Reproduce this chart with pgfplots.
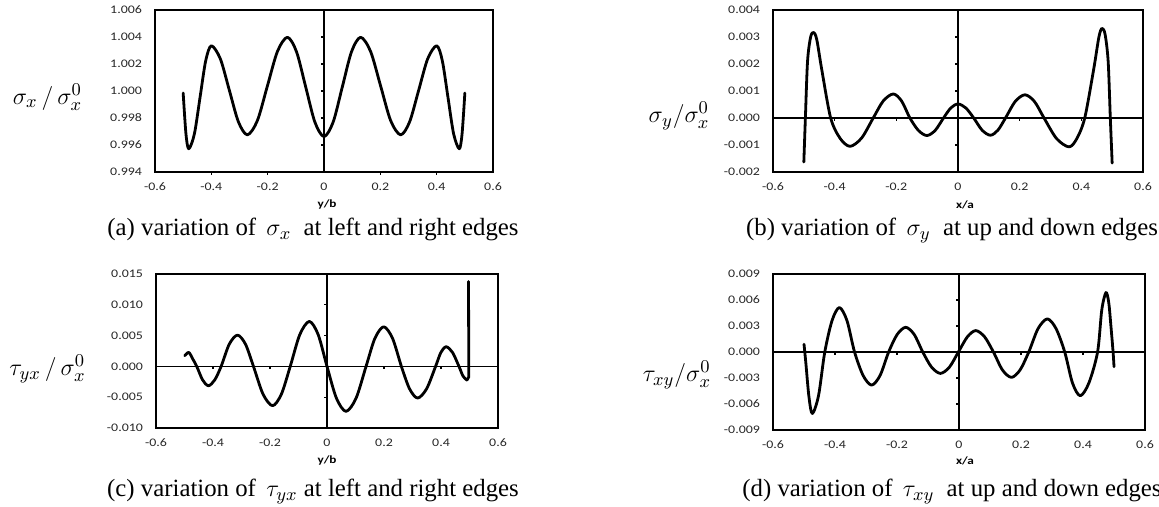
\documentclass[border=0pt]{standalone}
\usepackage{fontspec}
\setmainfont{Liberation Serif}
\newfontfamily\tickfont[FakeStretch=1.2]{Carlito}
\usepackage{pgfplots}
\pgfplotsset{compat=1.18}

\pgfplotsset{
  panel/.style={
    scale only axis, anchor=south west, clip=false,
    xmin=-0.6, xmax=0.6,
    xtick={-0.6,-0.4,-0.2,0,0.2,0.4,0.6},
    xticklabels={-0.6,-0.4,-0.2,0,0.2,0.4,0.6},
    scaled y ticks=false, scaled x ticks=false,
    major tick length=0pt,
    axis line style={line width=0.8pt},
    tick label style={font=\tickfont\fontsize{5.8}{6}\selectfont, text=black!85},
    xticklabel style={yshift=-2pt},
    yticklabel style={xshift=-3pt},
  },
  curve/.style={black, line width=1.4pt, smooth, line join=round, line cap=round},
}
\newcommand{\xlab}[1]{{\tickfont\bfseries\fontsize{5.5}{6}\selectfont #1}}

\begin{document}
\begin{tikzpicture}
\useasboundingbox (0pt,0pt) rectangle (579.5pt,253.5pt);

% (a) sigma_x at left and right edges
\begin{axis}[panel, at={(77.5pt,167.5pt)}, width=169pt, height=81pt,
  ymin=0.994, ymax=1.006,
  ytick={0.994,0.996,0.998,1.000,1.002,1.004,1.006},
  yticklabels={0.994,0.996,0.998,1.000,1.002,1.004,1.006}]
\draw[line width=1pt] (axis cs:0,0.994) -- (axis cs:0,1.006);
\pgfplotsinvokeforeach{0.996,0.998,1.000,1.002,1.004}{\draw[line width=0.6pt] (axis cs:0,#1) -- ++(-1.4pt,0pt);}
\pgfplotsinvokeforeach{-0.4,-0.2,0.2,0.4}{\draw[line width=0.6pt] (axis cs:#1,0.994) -- ++(0pt,-1.4pt);}
\addplot[curve] coordinates {
(-0.500,0.99985)(-0.490,0.99680)(-0.480,0.99572)(-0.460,0.99684)(-0.440,0.99954)
(-0.420,1.00224)(-0.400,1.00335)(-0.368,1.00238)(-0.336,1.00005)(-0.304,0.99772)
(-0.272,0.99675)(-0.2365,0.99781)(-0.201,1.00037)(-0.1655,1.00292)(-0.130,1.00398)
(-0.0975,1.00290)(-0.065,1.00030)(-0.0325,0.99770)(0.000,0.99662)
(0.0325,0.99770)(0.065,1.00030)(0.0975,1.00290)(0.130,1.00398)(0.1655,1.00292)
(0.201,1.00037)(0.2365,0.99781)(0.272,0.99675)(0.304,0.99772)(0.336,1.00005)
(0.368,1.00238)(0.400,1.00335)(0.420,1.00224)(0.440,0.99954)(0.460,0.99684)
(0.480,0.99572)(0.490,0.99680)(0.500,0.99985)};
\end{axis}

% (b) sigma_y at up and down edges
\begin{axis}[panel, at={(386.5pt,167.5pt)}, width=185pt, height=81pt,
  ymin=-0.002, ymax=0.004,
  ytick={-0.002,-0.001,0,0.001,0.002,0.003,0.004},
  yticklabels={-0.002,-0.001,0.000,0.001,0.002,0.003,0.004}]
\draw[line width=1pt] (axis cs:0,-0.002) -- (axis cs:0,0.004);
\draw[line width=0.7pt] (axis cs:-0.6,0) -- (axis cs:0.6,0);
\pgfplotsinvokeforeach{-0.001,0.001,0.002,0.003}{\draw[line width=0.6pt] (axis cs:0,#1) -- ++(-1.4pt,0pt);}
\pgfplotsinvokeforeach{-0.4,-0.2,0.2,0.4}{\draw[line width=0.6pt] (axis cs:#1,0) -- ++(0pt,-1.4pt);}
\addplot[curve] coordinates {
(-0.500,-0.00163)(-0.495,0.0000)(-0.488,0.0021)(-0.478,0.0030)(-0.468,0.00317)
(-0.458,0.0029)(-0.442,0.0018)(-0.413,0.0000)(-0.382,-0.00076)(-0.350,-0.00105)
(-0.3125,-0.00074)(-0.275,0.0000)(-0.2425,0.00063)(-0.210,0.00089)(-0.183,0.00063)
(-0.156,0.0000)(-0.1285,-0.00046)(-0.101,-0.00065)(-0.074,-0.00046)(-0.047,0.0000)
(-0.0235,0.00037)(0.000,0.00052)(0.0255,0.00037)(0.051,0.0000)(0.078,-0.00045)
(0.105,-0.00064)(0.1295,-0.00045)(0.154,0.0000)(0.1855,0.00061)(0.217,0.00086)
(0.248,0.00061)(0.279,0.0000)(0.3195,-0.00076)(0.360,-0.00107)(0.3855,-0.00076)
(0.411,0.0000)(0.440,0.0018)(0.457,0.0030)(0.467,0.00332)(0.477,0.0031)
(0.487,0.0021)(0.494,0.0000)(0.500,-0.00167)};
\end{axis}

% (c) tau_yx at left and right edges
\begin{axis}[panel, at={(78pt,39.5pt)}, width=171pt, height=77pt,
  ymin=-0.010, ymax=0.015,
  ytick={-0.010,-0.005,0,0.005,0.010,0.015},
  yticklabels={-0.010,-0.005,0.000,0.005,0.010,0.015}]
\draw[line width=1pt] (axis cs:0,-0.010) -- (axis cs:0,0.015);
\draw[line width=0.7pt] (axis cs:-0.6,0) -- (axis cs:0.6,0);
\pgfplotsinvokeforeach{-0.005,0.005,0.010}{\draw[line width=0.6pt] (axis cs:0,#1) -- ++(-1.4pt,0pt);}
\pgfplotsinvokeforeach{-0.4,-0.2,0.2,0.4}{\draw[line width=0.6pt] (axis cs:#1,0) -- ++(0pt,-1.4pt);}
\addplot[curve] coordinates {
(-0.499,0.00173)(-0.485,0.00227)(-0.471,0.0012)(-0.457,0.0000)(-0.4365,-0.0022)
(-0.416,-0.00314)(-0.394,-0.0022)(-0.3715,0.0000)(-0.343,0.0036)(-0.314,0.00508)
(-0.286,0.0036)(-0.258,0.0000)(-0.2245,-0.0045)(-0.191,-0.00638)(-0.160,-0.0045)
(-0.129,0.0000)(-0.0955,0.00516)(-0.062,0.0073)(-0.031,0.00516)(0.000,0.0000)
(0.033,-0.00516)(0.0667,-0.0073)(0.102,-0.00516)(0.137,0.0000)(0.168,0.00455)
(0.199,0.00643)(0.230,0.00455)(0.261,0.0000)(0.2895,-0.00363)(0.318,-0.00514)
(0.3495,-0.00363)(0.381,0.0000)(0.3995,0.00226)(0.418,0.00319)(0.4405,0.00226)
(0.463,0.0000)(0.4775,-0.0016)(0.491,-0.00222)};
\addplot[black, line width=1.4pt, line join=round, line cap=round] coordinates {
(0.491,-0.00222)(0.4975,-0.0017)(0.4965,0.01378)};
\end{axis}

% (d) tau_xy at up and down edges
\begin{axis}[panel, at={(386.5pt,38.5pt)}, width=186pt, height=78pt,
  ymin=-0.009, ymax=0.009,
  ytick={-0.009,-0.006,-0.003,0,0.003,0.006,0.009},
  yticklabels={-0.009,-0.006,-0.003,0.000,0.003,0.006,0.009}]
\draw[line width=1pt] (axis cs:0,-0.009) -- (axis cs:0,0.009);
\draw[line width=0.7pt] (axis cs:-0.6,0) -- (axis cs:0.6,0);
\pgfplotsinvokeforeach{-0.006,-0.003,0.003,0.006}{\draw[line width=0.6pt] (axis cs:0,#1) -- ++(-1.4pt,0pt);}
\pgfplotsinvokeforeach{-0.4,-0.2,0.2,0.4}{\draw[line width=0.6pt] (axis cs:#1,0) -- ++(0pt,-1.4pt);}
\addplot[curve] coordinates {
(-0.500,0.0009)(-0.494,-0.0013)(-0.484,-0.0052)(-0.473,-0.0071)(-0.453,-0.0050)
(-0.433,0.0000)(-0.4095,0.00363)(-0.386,0.00513)(-0.3615,0.00363)(-0.337,0.0000)
(-0.3095,-0.0027)(-0.282,-0.00382)(-0.2545,-0.0027)(-0.227,0.0000)(-0.1995,0.00202)
(-0.172,0.00285)(-0.1445,0.00202)(-0.117,0.0000)(-0.0885,-0.00175)(-0.060,-0.00247)
(-0.031,-0.00175)(-0.002,0.0000)(0.027,0.00175)(0.054,0.00247)(0.0825,0.00175)
(0.111,0.0000)(0.140,-0.00207)(0.169,-0.00293)(0.197,-0.00207)(0.225,0.0000)
(0.255,0.0027)(0.285,0.00382)(0.313,0.0027)(0.341,0.0000)(0.366,-0.00357)
(0.391,-0.00505)(0.419,-0.00357)(0.447,0.0000)(0.4605,0.00485)(0.474,0.00686)
(0.483,0.0057)(0.490,0.0030)(0.497,0.0000)(0.500,-0.0017)};
\end{axis}

% y labels
\node[inner sep=0pt, font=\fontsize{13}{14}\selectfont] at (23.75pt,205pt) {$\sigma_x\,/\,\sigma_x^0$};
\node[inner sep=0pt, font=\fontsize{13}{14}\selectfont] at (339.5pt,195.5pt) {$\sigma_y/\sigma_x^0$};
\node[inner sep=0pt, font=\fontsize{13}{14}\selectfont] at (23.75pt,69pt) {$\tau_{yx}\,/\,\sigma_x^0$};
\node[inner sep=0pt, font=\fontsize{13}{14}\selectfont] at (338.5pt,66pt) {$\tau_{xy}/\sigma_x^0$};

% x labels
\node at (163.5pt,151pt) {\xlab{y/b}};
\node at (482.5pt,151pt) {\xlab{x/a}};
\node at (163.5pt,23pt) {\xlab{y/b}};
\node at (482.5pt,23pt) {\xlab{x/a}};

% captions
\node[anchor=base, font=\fontsize{12.4}{14}\selectfont] at (156.5pt,135.5pt) {(a)\ variation of \,$\sigma_x$\ \ at left and right edges};
\node[anchor=base, font=\fontsize{12.4}{14}\selectfont] at (476pt,135.5pt) {(b)\ variation of \,$\sigma_y$\ \ at up and down edges};
\node[anchor=base, font=\fontsize{12.4}{14}\selectfont] at (156.5pt,5.25pt) {(c)\ variation of \,$\tau_{yx}$\ at left and right edges};
\node[anchor=base, font=\fontsize{12.4}{14}\selectfont] at (476pt,5.25pt) {(d)\ variation of \,$\tau_{xy}$\ \ at up and down edges};
\end{tikzpicture}
\end{document}
